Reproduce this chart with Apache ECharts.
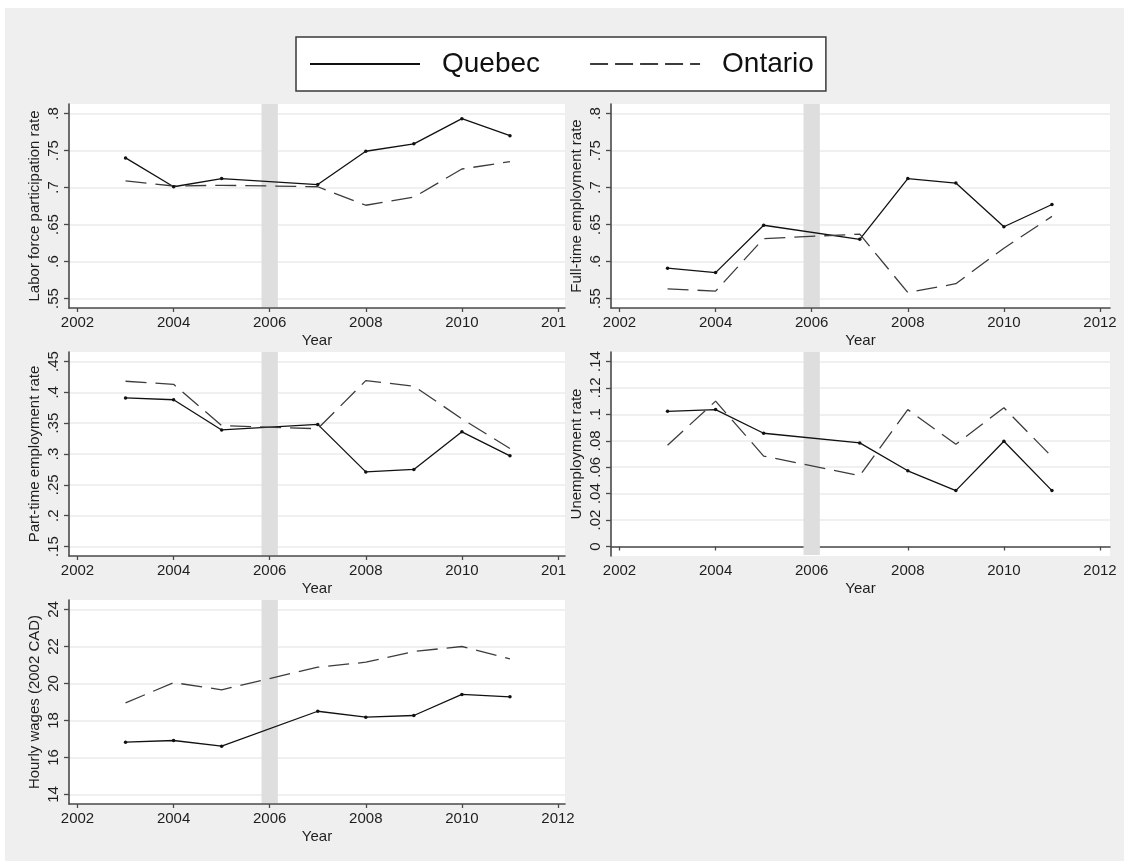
<!DOCTYPE html>
<html>
<head>
<meta charset="utf-8">
<script src="https://cdn.jsdelivr.net/npm/echarts@6/dist/echarts.min.js"></script>
<style>
  html, body { margin: 0; padding: 0; background: #ffffff; }
  #chart { width: 1124px; height: 861px; }
</style>
</head>
<body>
<div id="chart"></div>
<script>
// Survey years (2006 is not observed, so the lines jump straight across it)
const years = [2003, 2004, 2005, 2007, 2008, 2009, 2010, 2011];

// Labor force participation rate
const lfpQuebec  = [0.740, 0.701, 0.712, 0.704, 0.749, 0.759, 0.793, 0.770];
const lfpOntario = [0.709, 0.702, 0.703, 0.701, 0.676, 0.687, 0.725, 0.735];

// Full-time employment rate
const ftQuebec  = [0.591, 0.585, 0.649, 0.630, 0.712, 0.706, 0.647, 0.677];
const ftOntario = [0.563, 0.560, 0.631, 0.637, 0.558, 0.570, 0.618, 0.661];

// Part-time employment rate
const ptQuebec  = [0.391, 0.388, 0.339, 0.348, 0.271, 0.275, 0.336, 0.297];
const ptOntario = [0.418, 0.413, 0.346, 0.341, 0.419, 0.410, 0.357, 0.309];

// Unemployment rate
const urQuebec  = [0.1023, 0.1036, 0.0857, 0.0784, 0.0573, 0.0423, 0.0797, 0.0423];
const urOntario = [0.0767, 0.1100, 0.0684, 0.0536, 0.1036, 0.0774, 0.1050, 0.0679];

// Hourly wages (2002 CAD)
const wageQuebec  = [16.83, 16.92, 16.61, 18.50, 18.18, 18.27, 19.41, 19.28];
const wageOntario = [18.95, 20.05, 19.66, 20.88, 21.15, 21.73, 22.00, 21.33];

// Tick labels
const yearTicks = [2002, 2004, 2006, 2008, 2010, 2012];
const rateTicks = [0.55, 0.6, 0.65, 0.7, 0.75, 0.8];
const partTicks = [0.15, 0.2, 0.25, 0.3, 0.35, 0.4, 0.45];
const unempTicks = [0, 0.02, 0.04, 0.06, 0.08, 0.1, 0.12, 0.14];
const wageTicks = [14, 16, 18, 20, 22, 24];

// Shaded reform window around 2006
const reformBand = [2005.83, 2006.17];

const FONT = '"Liberation Sans", Arial, Helvetica, sans-serif';
const INK = '#1e1e1e';
const AXIS = '#4a4a4a';

// Panel layout (pixels) and y-range padding
const panels = [
  { left: 69,  top: 104, width: 496, title: 'Labor force participation rate', q: lfpQuebec,  o: lfpOntario,  ticks: rateTicks,  cut: true },
  { left: 611, top: 104, width: 499, title: 'Full-time employment rate',      q: ftQuebec,   o: ftOntario,   ticks: rateTicks,  cut: false },
  { left: 69,  top: 352, width: 496, title: 'Part-time employment rate',      q: ptQuebec,   o: ptOntario,   ticks: partTicks,  cut: true },
  { left: 611, top: 352, width: 499, title: 'Unemployment rate',              q: urQuebec,   o: urOntario,   ticks: unempTicks, cut: false },
  { left: 69,  top: 600, width: 496, title: 'Hourly wages (2002 CAD)',        q: wageQuebec, o: wageOntario, ticks: wageTicks,  cut: false }
];
const PANEL_H = 204;
const TICK_SPAN_PX = 185;
const PX_PER_YEAR = 48.05;
const X_PAD_LEFT = 8.5;   // px between the y axis and the 2002 tick
const Y_PAD = 9.5 / TICK_SPAN_PX;  // share of the tick span left blank above and below

function fmtTick(v) {
  return String(v).replace(/^0\./, '.').replace(/^-0\./, '-.');
}
function pairs(vals) {
  return years.map((y, k) => [y, vals[k]]);
}

const grid = [], xAxis = [], yAxis = [], series = [];

panels.forEach((p, i) => {
  grid.push({
    left: p.left, top: p.top, width: p.width, height: PANEL_H,
    show: true, backgroundColor: '#ffffff', borderWidth: 0
  });

  const xMin = 2002 - X_PAD_LEFT / PX_PER_YEAR;
  const xMax = xMin + p.width / PX_PER_YEAR;
  xAxis.push({
    gridIndex: i, type: 'value', min: xMin, max: xMax,
    name: 'Year', nameLocation: 'middle', nameGap: 25,
    nameTextStyle: { fontFamily: FONT, fontSize: 15, color: INK },
    axisLine: { show: true, lineStyle: { color: AXIS, width: 1.6 } },
    axisTick: { show: true, length: 4, customValues: yearTicks, lineStyle: { color: AXIS, width: 1.3 } },
    axisLabel: {
      customValues: yearTicks, margin: 7,
      fontFamily: FONT, fontSize: 15, color: INK,
      formatter: v => (p.cut && v === 2012) ? '{c|201}' : String(v),
      rich: { c: { fontFamily: FONT, fontSize: 15, color: INK, padding: [0, 9, 0, 0] } }
    },
    splitLine: { show: false }
  });

  const lo = p.ticks[0], hi = p.ticks[p.ticks.length - 1];
  const pad = (hi - lo) * Y_PAD;
  const yMin = lo - pad, yMax = hi + pad;
  const onePx = (hi - lo) / TICK_SPAN_PX;
  yAxis.push({
    gridIndex: i, type: 'value', min: yMin, max: yMax,
    name: p.title, nameLocation: 'middle', nameRotate: 90, nameGap: 27,
    nameTextStyle: { fontFamily: FONT, fontSize: 15, color: INK },
    axisLine: { show: true, lineStyle: { color: AXIS, width: 1.6 } },
    axisTick: { show: true, length: 5, customValues: p.ticks, lineStyle: { color: AXIS, width: 1.3 } },
    axisLabel: {
      customValues: p.ticks, rotate: 90, margin: 8,
      fontFamily: FONT, fontSize: 15, color: INK,
      formatter: fmtTick
    },
    splitLine: { show: true, lineStyle: { color: '#ebebeb', width: 1.6 } }
  });

  series.push({
    name: 'Quebec', type: 'line', xAxisIndex: i, yAxisIndex: i,
    data: pairs(p.q),
    symbol: 'circle', symbolSize: 3.5, showSymbol: true,
    itemStyle: { color: '#111111' },
    lineStyle: { color: '#111111', width: 1.3 },
    z: 3,
    markArea: {
      silent: true,
      itemStyle: { color: '#dedede' },
      // band stops just above the x axis line so the line stays visible
      data: [[{ xAxis: reformBand[0], yAxis: yMin + onePx }, { xAxis: reformBand[1], yAxis: yMax }]]
    },
    animation: false
  });
  series.push({
    name: 'Ontario', type: 'line', xAxisIndex: i, yAxisIndex: i,
    data: pairs(p.o),
    symbol: 'none', showSymbol: false,
    itemStyle: { color: '#3c3c3c' },
    lineStyle: { color: '#3c3c3c', width: 1.3, type: [21, 9] },
    z: 3,
    animation: false
  });
});

const option = {
  animation: false,
  backgroundColor: '#ffffff',
  graphic: [
    { type: 'rect', z: -100, silent: true, shape: { x: 5, y: 8, width: 1119, height: 853 }, style: { fill: '#efefef' } }
  ],
  legend: {
    left: 296, top: 37,
    padding: [13, 12, 13, 14],
    itemGap: 50,
    itemWidth: 110, itemHeight: 2,
    backgroundColor: '#ffffff',
    borderColor: '#3a3a3a', borderWidth: 1.5,
    selectedMode: false,
    textStyle: { fontFamily: FONT, fontSize: 28, color: '#111111', padding: [0, 0, 0, 17] },
    data: [
      { name: 'Quebec', icon: 'path://M0,0H110V2H0Z' },
      { name: 'Ontario', icon: 'path://M0,0H18V2H0Z M25,0H43V2H25Z M50,0H68V2H50Z M75,0H93V2H75Z M100,0H110V2H100Z' }
    ]
  },
  grid, xAxis, yAxis, series
};

const chart = echarts.init(document.getElementById('chart'), null, { renderer: 'canvas' });
chart.setOption(option);
</script>
</body>
</html>
